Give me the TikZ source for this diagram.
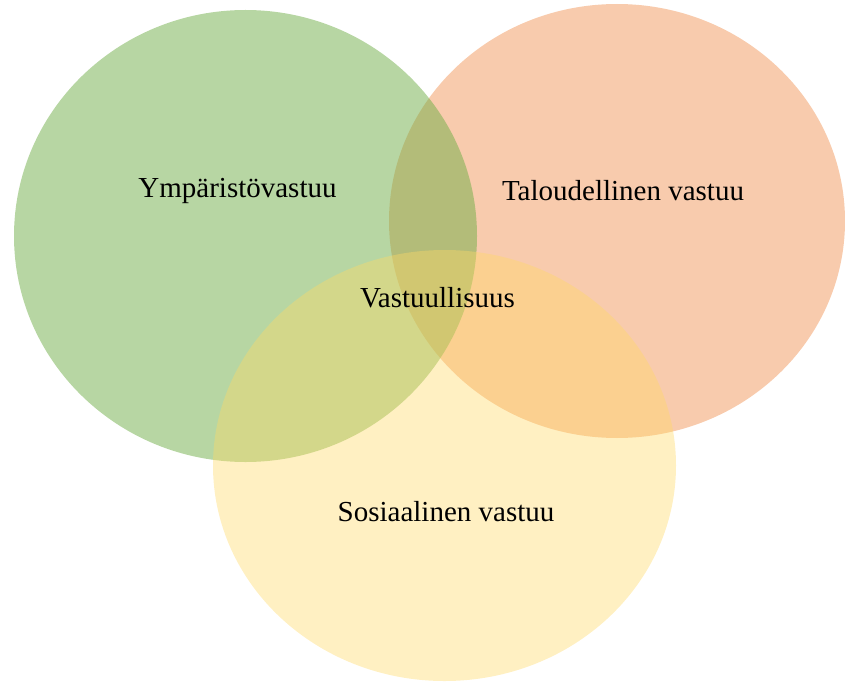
\documentclass[tikz,border=0pt]{standalone}
\usepackage{fontspec}
\setmainfont{Liberation Serif}
\usepackage{tikz}
\definecolor{envgreen}{HTML}{70AD47}
\definecolor{econorange}{HTML}{ED7D31}
\definecolor{socyellow}{HTML}{FFD966}

\begin{document}
\begin{tikzpicture}[
    x=1pt, y=-1pt,
    area/.style={fill=#1},
    lbl/.style={anchor=base, inner sep=0pt, font=\fontsize{29}{34}\selectfont}
]
    \useasboundingbox (0,0) rectangle (845,682);
    % the three areas of responsibility
    \fill[area=econorange, fill opacity=0.4] (617,221) ellipse [x radius=228pt, y radius=217pt];
    \fill[area=envgreen, fill opacity=0.5] (245.5,236) ellipse [x radius=231.5pt, y radius=226pt];
    \fill[area=socyellow, fill opacity=0.4] (444.5,465.5) ellipse [x radius=231.5pt, y radius=215.5pt];
    % labels
    \node[lbl] (env) at (237.5,197) {Ympäristövastuu};
    \node[lbl] (econ) at (623,200) {Taloudellinen vastuu};
    \node[lbl] (core) at (437.5,307) {Vastuullisuus};
    \node[lbl] (soc) at (446,521) {Sosiaalinen vastuu};
\end{tikzpicture}
\end{document}
